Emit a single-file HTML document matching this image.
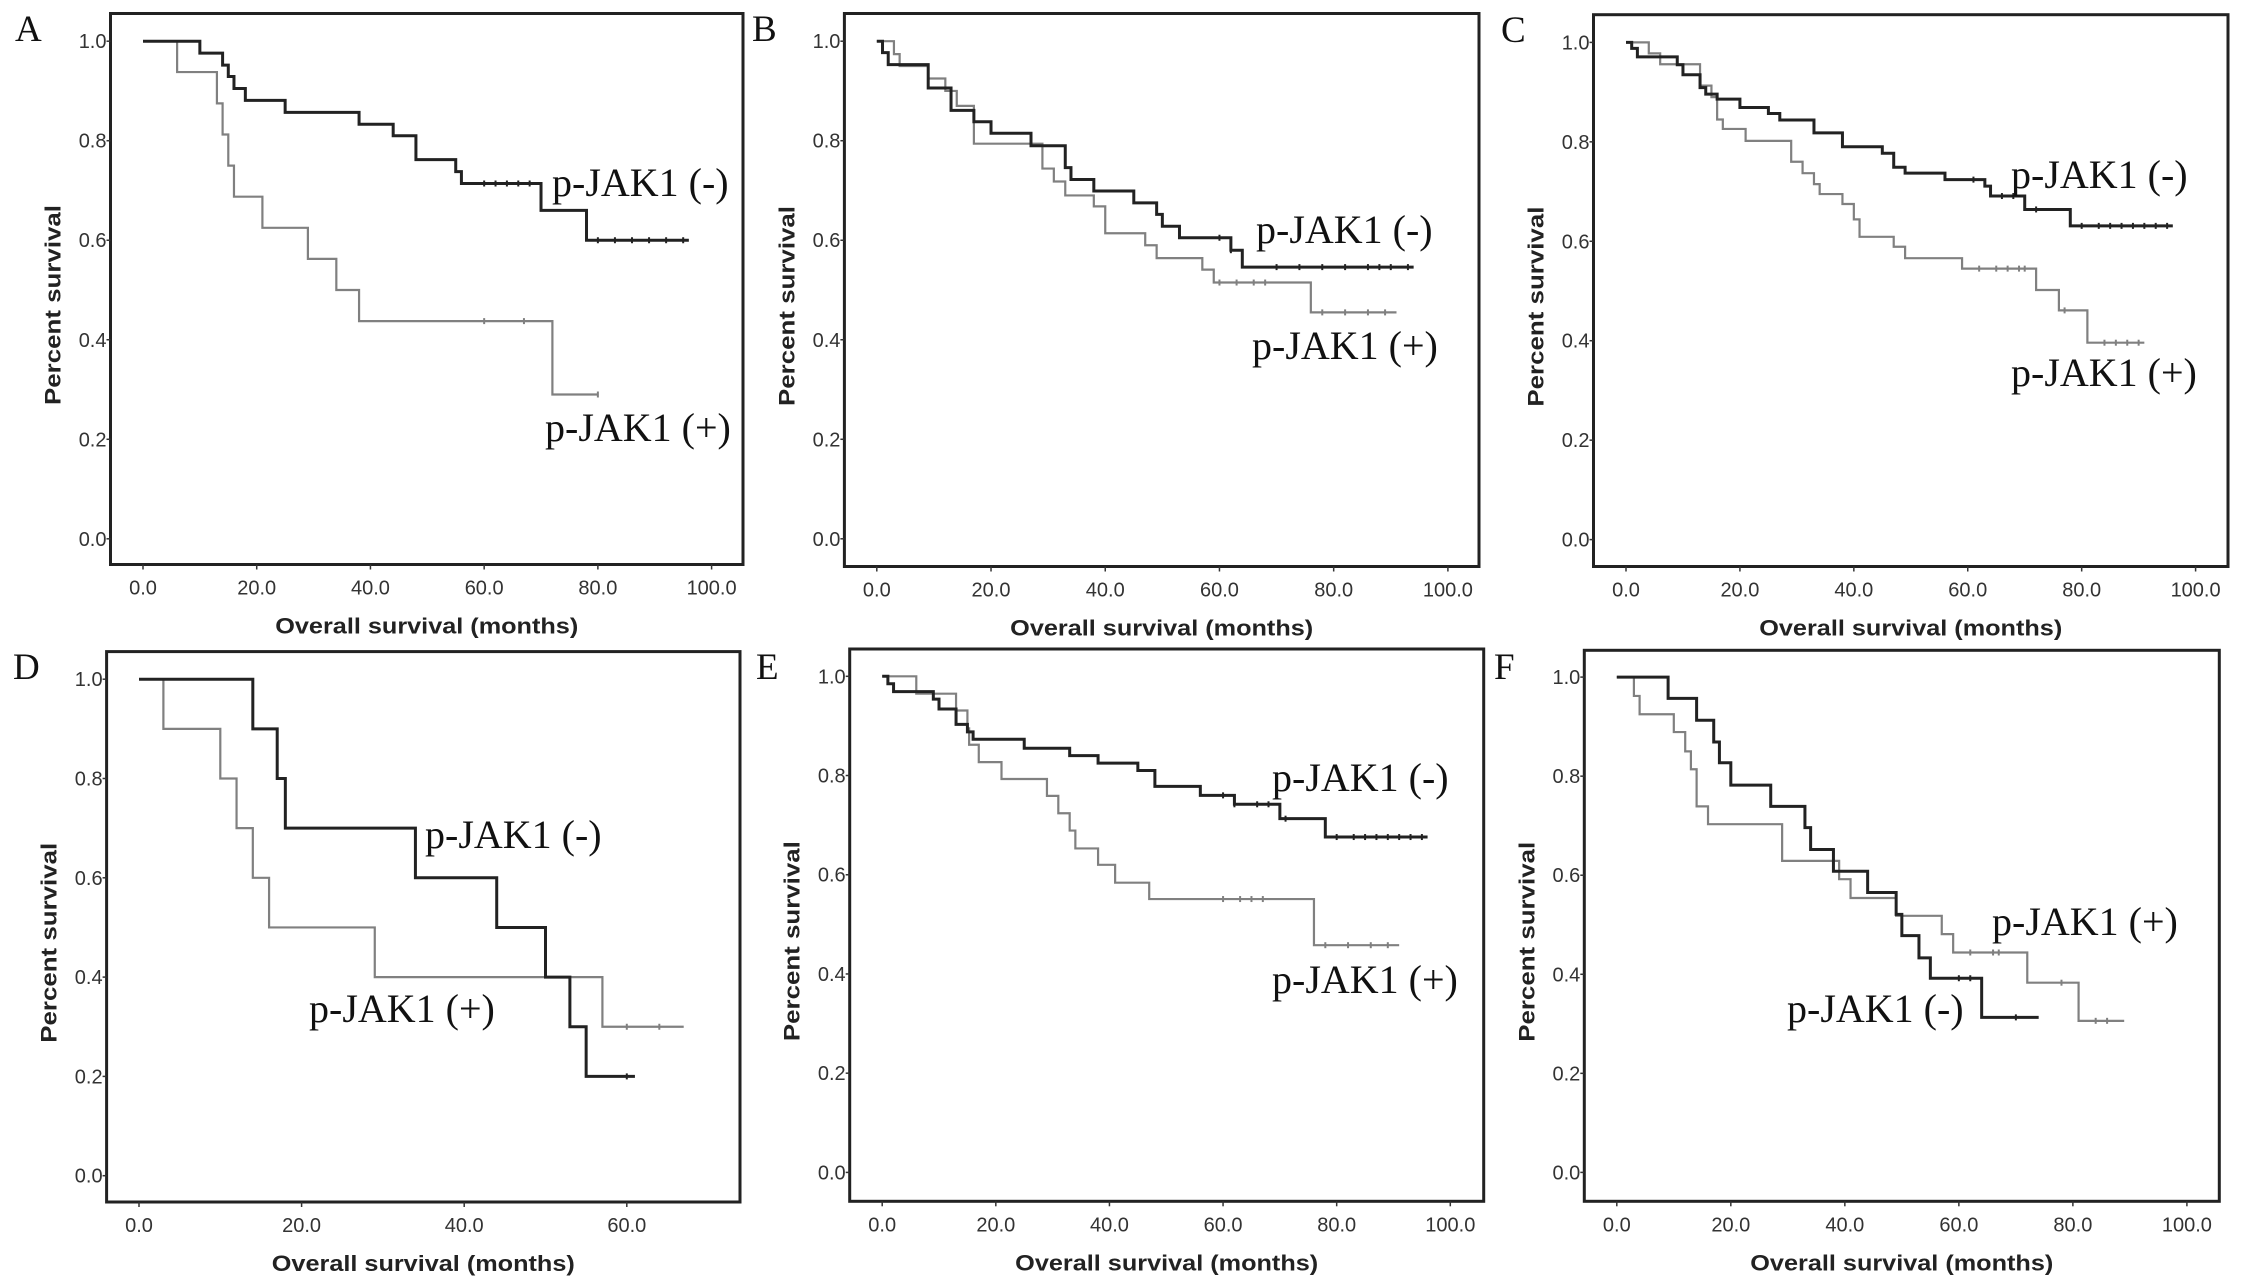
<!DOCTYPE html>
<html><head><meta charset="utf-8"><style>
html,body{margin:0;padding:0;background:#fff;overflow:hidden}
svg{display:block}
</style></head><body>
<svg id="fig" width="2244" height="1287" viewBox="0 0 2244 1287" xmlns="http://www.w3.org/2000/svg"></svg>
<script>
// ---- data (months, survival) ----
const xTicksA = [0,20,40,60,80,100];
const xTicksD = [0,20,40,60];
const yTicks = [0,0.2,0.4,0.6,0.8,1.0];

const aNegT=[0,10,14,15,16,18,25,38,44,48,55,56,70,78]; const aNegS=[1,0.976,0.952,0.929,0.905,0.881,0.857,0.833,0.81,0.762,0.738,0.714,0.66,0.6]; const aNegEnd=96; const aNegC=[60,62,64,66,68,80,83,86,89,92,95];
const aPosT=[0,6,13,14,15,16,21,29,34,38,72]; const aPosS=[1,0.938,0.875,0.8125,0.75,0.6875,0.625,0.5625,0.5,0.4375,0.29]; const aPosEnd=80; const aPosC=[60,67,80];

const bNegT=[0,1,2,9,13,17,20,27,33,34,38,45,49,50,53,62,64]; const bNegS=[1,0.977,0.953,0.906,0.861,0.838,0.815,0.79,0.746,0.722,0.699,0.675,0.652,0.628,0.605,0.58,0.546]; const bNegEnd=94; const bNegC=[60,62,70,74,78,82,86,88,90,93];
const bPosT=[0,3,4,9,12,14,17,29,31,33,38,40,47,49,57,59,76]; const bPosS=[1,0.974,0.95,0.925,0.9,0.87,0.794,0.744,0.718,0.69,0.668,0.614,0.59,0.564,0.541,0.515,0.455]; const bPosEnd=91; const bPosC=[60,63,66,68,78,82,86,89];

const cNegT=[0,1,2,9,10,13,14,16,20,25,27,33,38,45,47,49,56,63,64,70,78]; const cNegS=[1,0.988,0.971,0.955,0.935,0.909,0.896,0.886,0.869,0.857,0.844,0.818,0.79,0.777,0.749,0.737,0.724,0.711,0.691,0.664,0.631]; const cNegEnd=96; const cNegC=[61,66,68,72,80,83,85,87,89,91,93,95];
const cPosT=[0,4,6,13,15,16,17,21,29,31,33,34,38,40,41,47,49,59,72,76,81]; const cPosS=[1,0.978,0.956,0.913,0.89,0.845,0.826,0.802,0.76,0.737,0.715,0.695,0.675,0.644,0.609,0.589,0.566,0.545,0.502,0.461,0.396]; const cPosEnd=91; const cPosC=[62,65,67,69,70,77,84,86,88,90];

const dNegT=[0,14,17,18,34,44,50,53,55]; const dNegS=[1,0.9,0.8,0.7,0.6,0.5,0.4,0.3,0.2]; const dNegEnd=61; const dNegC=[60];
const dPosT=[0,3,10,12,14,16,29,57]; const dPosS=[1,0.9,0.8,0.7,0.6,0.5,0.4,0.3]; const dPosEnd=67; const dPosC=[60,64];

const eNegT=[0,1,2,9,10,13,15,16,25,33,38,45,48,56,62,70,78]; const eNegS=[1,0.985,0.969,0.954,0.934,0.903,0.888,0.873,0.855,0.84,0.825,0.81,0.778,0.76,0.742,0.713,0.676]; const eNegEnd=96; const eNegC=[60,62,66,68,71,80,83,85,87,89,91,93,95];
const ePosT=[0,6,13,15,15.3,17,21,29,31,33,34,38,41,47,76]; const ePosS=[1,0.965,0.931,0.895,0.862,0.827,0.793,0.759,0.724,0.689,0.653,0.62,0.584,0.551,0.458]; const ePosEnd=91; const ePosC=[60,63,65,67,78,82,86,89];

const fNegT=[0,9,14,17,18,20,27,33,34,38,44,49,50,53,55,64]; const fNegS=[1,0.957,0.913,0.869,0.827,0.782,0.739,0.696,0.652,0.608,0.565,0.521,0.478,0.433,0.392,0.313]; const fNegEnd=74; const fNegC=[60,62,70];
const fPosT=[0,3,4,10,12,13,14,16,29,39,41,49,57,59,72,81]; const fPosS=[1,0.962,0.925,0.889,0.85,0.814,0.739,0.703,0.629,0.592,0.554,0.518,0.481,0.444,0.383,0.306]; const fPosEnd=89; const fPosC=[62,66,67,78,84,86];

// ---- layout ----
const panels=[
 {id:'a',letter:'A',lx:15,ly:41,L:110.5,T:13.5,R:743,B:564.5,x0:143,x100:711.6,y1:41.2,y0:538.8,ticks:xTicksA,neg:[aNegT,aNegS,aNegEnd,aNegC],pos:[aPosT,aPosS,aPosEnd,aPosC],negLab:[552,196],posLab:[545,441]},
 {id:'b',letter:'B',lx:752,ly:41,L:844.4,T:13.5,R:1479,B:566.5,x0:876.8,x100:1447.9,y1:41.2,y0:538.8,ticks:xTicksA,neg:[bNegT,bNegS,bNegEnd,bNegC],pos:[bPosT,bPosS,bPosEnd,bPosC],negLab:[1256,243],posLab:[1252,359]},
 {id:'c',letter:'C',lx:1501,ly:42,L:1593.5,T:14.7,R:2228,B:566.5,x0:1626,x100:2195.6,y1:42.4,y0:539.6,ticks:xTicksA,neg:[cNegT,cNegS,cNegEnd,cNegC],pos:[cPosT,cPosS,cPosEnd,cPosC],negLab:[2011,188],posLab:[2011,386]},
 {id:'d',letter:'D',lx:13,ly:679,L:106.6,T:651.6,R:740,B:1202,x0:139,x100:139+813,y1:679.2,y0:1175.7,ticks:xTicksD,neg:[dNegT,dNegS,dNegEnd,dNegC],pos:[dPosT,dPosS,dPosEnd,dPosC],negLab:[425,848],posLab:[309,1022]},
 {id:'e',letter:'E',lx:756,ly:679,L:849.7,T:649,R:1483.7,B:1201.3,x0:882.2,x100:1450.3,y1:676.3,y0:1172.4,ticks:xTicksA,neg:[eNegT,eNegS,eNegEnd,eNegC],pos:[ePosT,ePosS,ePosEnd,ePosC],negLab:[1272,791],posLab:[1272,993]},
 {id:'f',letter:'F',lx:1494,ly:679,L:1584.3,T:650.3,R:2219.3,B:1201.3,x0:1616.8,x100:2186.9,y1:677.1,y0:1172.4,ticks:xTicksA,neg:[fNegT,fNegS,fNegEnd,fNegC],pos:[fPosT,fPosS,fPosEnd,fPosC],negLab:[1787,1022],posLab:[1992,935]}
];
const NS='http://www.w3.org/2000/svg';
const svg=document.getElementById('fig');
function mk(tag,attrs,parent){const e=document.createElementNS(NS,tag);for(const k in attrs)e.setAttribute(k,attrs[k]);(parent||svg).appendChild(e);return e;}

panels.forEach(p=>{
  const g=mk('g',{});
  
  
  const sx=v=>p.x0+(p.x100-p.x0)*v/100;
  const sy=v=>p.y0+(p.y1-p.y0)*v;
  const box=mk('rect',{x:p.L,y:p.T,width:p.R-p.L,height:p.B-p.T,fill:'none',stroke:'#222','stroke-width':3},g);
  
  
  const let_=mk('text',{x:p.lx,y:p.ly,'font-family':'"Liberation Serif",serif','font-size':37,fill:'#111'},g);
  let_.textContent=p.letter;
  
  
  yTicks.forEach(v=>{
    const y=sy(v);
    const t=mk('text',{x:p.L-4,y:y+7,'text-anchor':'end','font-family':'"Liberation Sans",sans-serif','font-size':20,fill:'#333'},g);
    t.textContent=v.toFixed(1);
    
    
    mk('line',{x1:p.L-4,x2:p.L,y1:y,y2:y,stroke:'#333','stroke-width':1.5},g);
  });
  p.ticks.forEach(v=>{
    const x=sx(v);
    mk('line',{x1:x,x2:x,y1:p.B,y2:p.B+5,stroke:'#333','stroke-width':1.5},g);
    const t=mk('text',{x:x,y:p.B+30,'text-anchor':'middle','font-family':'"Liberation Sans",sans-serif','font-size':20,fill:'#333'},g);
    t.textContent=v.toFixed(1);
    
    
  });
  const xt=mk('text',{x:(p.L+p.R)/2,y:p.B+69,'text-anchor':'middle','font-family':'"Liberation Sans",sans-serif','font-size':22,'font-weight':'bold',fill:'#222',textLength:303,lengthAdjust:'spacingAndGlyphs'},g);
  xt.textContent='Overall survival (months)';
  
  
  const ycx=p.L-50, ycy=(p.T+p.B)/2+16;
  const yt=mk('text',{x:ycx,y:ycy,'text-anchor':'middle','font-family':'"Liberation Sans",sans-serif','font-size':22,'font-weight':'bold',fill:'#222',transform:`rotate(-90 ${ycx} ${ycy})`,textLength:200,lengthAdjust:'spacingAndGlyphs'},g);
  yt.textContent='Percent survival';
  
  
  function curve(ser,color,w,name){
    const [T,S,end,C]=ser;
    let d=`M${sx(T[0])},${sy(S[0])}`;
    for(let i=1;i<T.length;i++){d+=` H${sx(T[i])} V${sy(S[i])}`;}
    d+=` H${sx(end)}`;
    const path=mk('path',{d:d,fill:'none',stroke:color,'stroke-width':w},g);
    
    
    C.forEach(c=>{
      let s=S[0];for(let i=0;i<T.length;i++){if(T[i]<=c)s=S[i];}
      const m=mk('line',{x1:sx(c),x2:sx(c),y1:sy(s)-3,y2:sy(s)+3,stroke:color,'stroke-width':2},g);
      
      
    });
  }
  curve(p.pos,'#808080',2.2,'curve-pjak1-positive');
  curve(p.neg,'#222',3,'curve-pjak1-negative');
  const ln=mk('text',{x:p.negLab[0],y:p.negLab[1],'font-family':'"Liberation Serif",serif','font-size':40,fill:'#111'},g);
  ln.textContent='p-JAK1 (-)';
  
  
  const lp=mk('text',{x:p.posLab[0],y:p.posLab[1],'font-family':'"Liberation Serif",serif','font-size':40,fill:'#111'},g);
  lp.textContent='p-JAK1 (+)';
  
  
});
</script>
</body></html>
